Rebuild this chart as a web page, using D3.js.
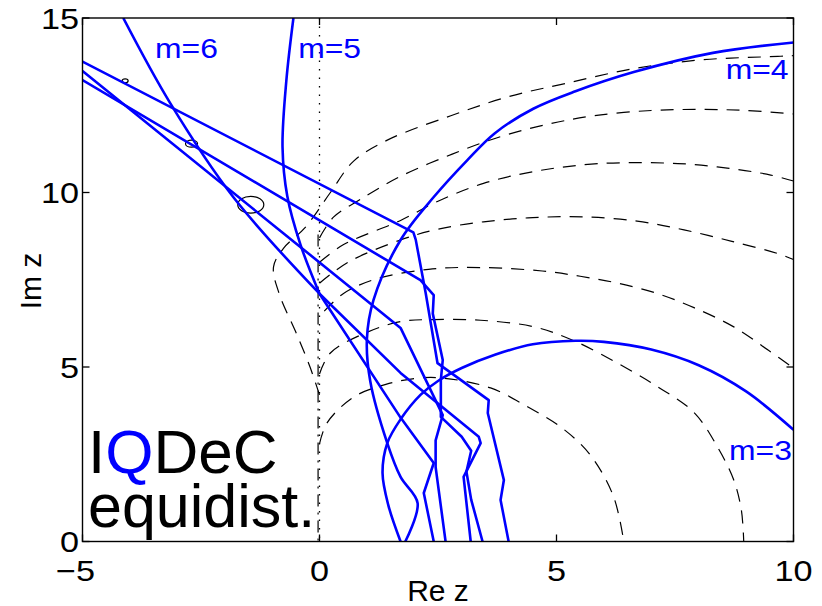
<!DOCTYPE html>
<html>
<head>
<meta charset="utf-8">
<script src="https://cdn.jsdelivr.net/npm/d3@7"></script>
<style>
  body { margin: 0; background: #fff; }
  svg { display: block; font-family: "Liberation Sans", Arial, sans-serif; }
</style>
</head>
<body>
<svg id="chart" width="822" height="606"></svg>
<script>
// axis setup
const xTicks = [-5, 0, 5, 10];
const yTicks = [0, 5, 10, 15];

// blue stability boundaries, [Re, Im]
const m3Curve = [[10,3.2],[9,4.3],[8,5.05],[7,5.5],[6,5.72],[5.4,5.75],[4.5,5.65],[3.7,5.35],[3.0,4.97],[2.5,4.6],[2.13,4.2],[1.71,3.5],[1.43,2.82],[1.33,1.96],[1.45,1.05],[1.71,0]];
const m4Curve = [[10,14.3],[8.3,14.0],[6.63,13.45],[5.4,12.9],[4.51,12.4],[3.7,11.7],[3.12,10.93],[2.41,9.87],[1.71,8.64],[1.14,6.92],[1.0,5.8],[1.07,4.6],[1.43,2.82],[1.71,1.85],[2.07,1.1],[1.81,0]];
const m5Top = [[-0.55,15],[-0.7,13.2],[-0.78,11.3],[-0.68,9.9],[-0.4,8.5],[0,7.1]];
const m5Low = [[0,7.1],[1.71,4.83],[3.36,3.0],[3.4,2.82],[3.04,1.85],[3.19,0]];
const m6Top = [[-4.14,15],[-3.15,12.56],[-1.82,9.87],[0,7.1]];
const m6Low = [[0,7.1],[1.71,3.55],[2.41,2.25],[2.2,1.39],[2.41,0]];
const lineA = [[-5,13.75],[1.98,8.86],[2.03,8.65],[2.24,7.12],[2.49,5.11],[3.57,4.05],[3.55,3.68],[3.89,1.76],[3.82,1.19],[3.99,0]];
const lineB = [[-5,13.22],[2.13,7.49],[2.41,7.06],[2.39,6.53],[2.6,5.2],[2.56,4.63],[2.56,3.57],[3.0,3.0],[3.2,2.6],[3.1,2.0],[3.2,1.2],[3.44,0]];
const lineC = [[-5,13.48],[1.71,6.12],[2.6,3.62],[2.45,2.9],[2.45,2.13],[2.66,0]];

// black dashed level curves
const dash1 = [[0,4.2],[-0.2,5.0],[-0.5,6.0],[-0.85,7.1],[-0.97,7.87],[-0.76,8.4],[-0.3,9.0],[0.23,10.0],[0.72,10.9],[1.43,11.5],[2.77,12.2],[4.0,12.75],[5.24,13.14],[6.63,13.55],[8.05,13.8],[9.67,13.9],[10,13.92]];
const dash2 = [[0,8.7],[0.3,9.3],[0.86,9.8],[1.69,10.45],[2.8,11.1],[3.82,11.6],[4.8,11.95],[5.79,12.2],[7,12.35],[8.05,12.38],[9,12.35],[10,12.25]];
const dash3 = [[0,8.0],[0.5,8.5],[1.71,9.2],[2.5,9.75],[3.46,10.26],[4.6,10.62],[5.93,10.83],[7.56,10.83],[8.6,10.7],[9.52,10.5],[10,10.33]];
const dash4 = [[0.0,7.4],[0.6,8.0],[1.71,8.64],[2.5,8.95],[3.46,9.16],[4.5,9.28],[5.58,9.3],[6.7,9.18],[7.69,8.93],[8.7,8.6],[9.67,8.25],[10,8.08]];
const dash5 = [[0.1,6.6],[0.5,7.1],[1.14,7.5],[2.3,7.8],[3.4,7.85],[4.7,7.75],[5.5,7.6],[6.3,7.4],[7.14,7.1],[7.9,6.7],[8.74,6.15],[9.52,5.43],[10,4.97]];
const dash6 = [[0,4.8],[0.23,5.4],[1.01,6.0],[1.71,6.3],[2.41,6.36],[3.4,6.34],[4.53,6.15],[5.37,5.75],[6.3,5.1],[7.14,4.43],[7.9,3.7],[8.4,2.7],[8.74,1.76],[8.9,0.9],[8.95,0]];
const dash7 = [[0,2.8],[0.16,3.4],[0.72,4.14],[1.4,4.5],[2.07,4.68],[2.62,4.68],[3.61,4.4],[4.39,3.86],[5.09,3.28],[5.7,2.5],[6.2,1.3],[6.42,0]];
const axisDash = [[-0.03,8.8],[-0.03,0]];

// small black ellipses: [Re, Im, rRe, rIm]
const ellipses = [[-4.1,13.2,0.063,0.057],[-2.7,11.4,0.127,0.1],[-1.45,9.65,0.275,0.24]];

const mLabels = ["m=6", "m=5", "m=4", "m=3"];
const mLabelPos = [[-3.47,13.85],[-0.45,13.85],[8.57,13.25],[8.64,2.34]];

const svg = d3.select("#chart");
const x = d3.scaleLinear().domain([-5, 10]).range([82.5, 793.5]);
const y = d3.scaleLinear().domain([0, 15]).range([541.5, 18]);

svg.append("defs").append("clipPath").attr("id", "plot")
  .append("rect").attr("x", 82.5).attr("y", 18).attr("width", 711).attr("height", 523.5);

const line = d3.line().x(d => x(d[0])).y(d => y(d[1]));
const smooth = d3.line().x(d => x(d[0])).y(d => y(d[1])).curve(d3.curveCatmullRom.alpha(0.5));
const g = svg.append("g").attr("clip-path", "url(#plot)");

// imaginary axis, dotted
g.append("line")
  .attr("x1", x(0)).attr("x2", x(0)).attr("y1", y(15)).attr("y2", y(0))
  .attr("stroke", "#000").attr("stroke-width", 1.3).attr("stroke-dasharray", "1.5,7");

[dash1, dash2, dash3, dash4, dash5, dash6, dash7].forEach(c => {
  g.append("path").attr("d", smooth(c))
    .attr("fill", "none").attr("stroke", "#000").attr("stroke-width", 1.2)
    .attr("stroke-dasharray", "13,9");
});
g.append("path").attr("d", line(axisDash))
  .attr("fill", "none").attr("stroke", "#000").attr("stroke-width", 1.2)
  .attr("stroke-dasharray", "12,6,2,6");

ellipses.forEach(e => {
  g.append("ellipse")
    .attr("cx", x(e[0])).attr("cy", y(e[1]))
    .attr("rx", x(e[0] + e[2]) - x(e[0])).attr("ry", y(e[1]) - y(e[1] + e[3]))
    .attr("fill", "none").attr("stroke", "#000").attr("stroke-width", 1.2);
});

const blue = (d) => g.append("path").attr("d", d)
  .attr("fill", "none").attr("stroke", "#0000ff").attr("stroke-width", 2.6)
  .attr("stroke-linejoin", "round");
blue(smooth(m3Curve));
blue(smooth(m4Curve));
blue(smooth(m5Top));
blue(smooth(m6Top));
[m5Low, m6Low, lineA, lineB, lineC].forEach(c => blue(line(c)));

// frame + inward ticks
svg.append("rect").attr("x", 82.5).attr("y", 18).attr("width", 711).attr("height", 523.5)
  .attr("fill", "none").attr("stroke", "#000").attr("stroke-width", 1.4);

const tickLen = 7;
const fmt = t => t < 0 ? "\u2212" + Math.abs(t) : String(t);
xTicks.forEach(t => {
  svg.append("line").attr("x1", x(t)).attr("x2", x(t)).attr("y1", y(0)).attr("y2", y(0) - tickLen).attr("stroke", "#000").attr("stroke-width", 1.3);
  svg.append("line").attr("x1", x(t)).attr("x2", x(t)).attr("y1", y(15)).attr("y2", y(15) + tickLen).attr("stroke", "#000").attr("stroke-width", 1.3);
  const cx = x(t) + (t < 0 ? -7 : 0);
  svg.append("text").attr("transform", `translate(${cx},581) scale(1.18,1)`).attr("text-anchor", "middle")
    .attr("font-size", 29).text(fmt(t));
});
yTicks.forEach(t => {
  svg.append("line").attr("x1", x(-5)).attr("x2", x(-5) + tickLen).attr("y1", y(t)).attr("y2", y(t)).attr("stroke", "#000").attr("stroke-width", 1.3);
  svg.append("line").attr("x1", x(10)).attr("x2", x(10) - tickLen).attr("y1", y(t)).attr("y2", y(t)).attr("stroke", "#000").attr("stroke-width", 1.3);
  svg.append("text").attr("transform", `translate(79,${y(t) + 10.5}) scale(1.18,1)`).attr("text-anchor", "end")
    .attr("font-size", 29).text(fmt(t));
});

svg.append("text").attr("x", 438).attr("y", 601).attr("text-anchor", "middle")
  .attr("font-size", 30).text("Re z");
svg.append("text").attr("transform", "translate(41,281) rotate(-90)").attr("text-anchor", "middle")
  .attr("font-size", 30).text("Im z");

mLabels.forEach((s, i) => {
  svg.append("text").attr("transform", `translate(${x(mLabelPos[i][0])},${y(mLabelPos[i][1])}) scale(1.18,1)`)
    .attr("font-size", 27).attr("fill", "#0000ff").text(s);
});

const big = svg.append("text").attr("x", 88).attr("y", 473).attr("font-size", 62).attr("fill", "#000");
big.append("tspan").text("I");
big.append("tspan").attr("fill", "#0000ff").text("Q");
big.append("tspan").text("DeC");
svg.append("text").attr("x", 88).attr("y", 527).attr("font-size", 61).attr("fill", "#000").text("equidist.");
</script>
</body>
</html>
